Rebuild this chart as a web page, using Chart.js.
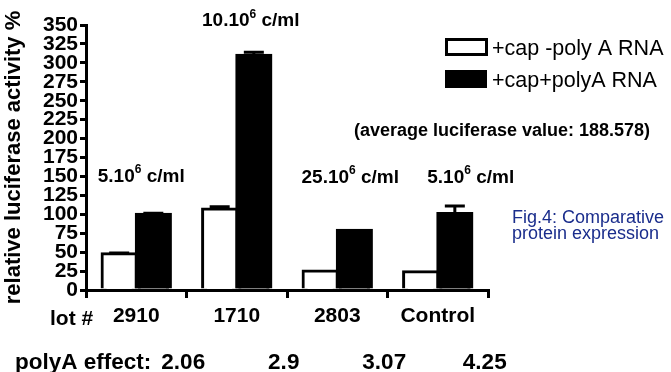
<!DOCTYPE html>
<html lang="en">
<head>
    <meta charset="UTF-8">
    <title>Luciferase activity</title>
    <script src="https://cdn.jsdelivr.net/npm/chart.js"></script>
    <style>
        body {
            margin: 0;
            background: #fff;
        }

        #box {
            width: 671px;
            height: 372px;
        }
    </style>
</head>
<body>
    <div id="box">
        <canvas id="chart" width="671" height="372"></canvas>
    </div>

    <script>
        // data
        const lots = ['2910', '1710', '2803', 'Control'];
        const seriesNames = ['+cap -poly A RNA', '+cap+polyA RNA'];
        const noPolyA = [48, 107, 25, 24];
        const withPolyA = [100, 310, 79, 101];
        const noPolyAErr = [1, 3, 0, 0];
        const withPolyAErr = [1.5, 4, 0, 10];
        const yTicksStep = 25;
        const yMax = 350;
        const copies = ['5', '10', '25', '5'];   // x10^6 copies / ml
        const polyAEffect = ['2.06', '2.9', '3.07', '4.25'];
        const averageValue = '188.578';

        const fam = '"Liberation Sans", Arial, sans-serif';

        // places for the text notes (pixel offsets from the category centre, y in axis units)
        const notePos = [[5, 150], [14, 355], [13, 148], [33, 148]];

        function drawCopies(ctx, txt, cx, cy) {
            const big = 'bold 19px ' + fam;
            const small = 'bold 12px ' + fam;
            ctx.font = big;
            const a = txt + '.10';
            const c = ' c/ml';
            const wa = ctx.measureText(a).width;
            const wc = ctx.measureText(c).width;
            ctx.font = small;
            const ws = ctx.measureText('6').width;
            let x = cx - (wa + ws + wc) / 2;
            ctx.textAlign = 'left';
            ctx.textBaseline = 'middle';
            ctx.font = big;
            ctx.fillText(a, x, cy);
            x += wa;
            ctx.font = small;
            ctx.fillText('6', x, cy - 7);
            x += ws;
            ctx.font = big;
            ctx.fillText(c, x, cy);
        }

        const extras = {
            id: 'extras',
            afterDatasetsDraw(chart) {
                const ctx = chart.ctx;
                const xs = chart.scales.x;
                const ys = chart.scales.y;
                ctx.save();
                ctx.fillStyle = '#000';
                ctx.strokeStyle = '#000';

                // error bars
                const errs = [noPolyAErr, withPolyAErr];
                chart.data.datasets.forEach((ds, i) => {
                    const meta = chart.getDatasetMeta(i);
                    meta.data.forEach((bar, j) => {
                        const e = errs[i][j];
                        if (!e) return;
                        const top = ys.getPixelForValue(ds.data[j] + e);
                        ctx.lineWidth = 3;
                        ctx.beginPath();
                        ctx.moveTo(bar.x, bar.y);
                        ctx.lineTo(bar.x, top);
                        ctx.moveTo(bar.x - 10, top);
                        ctx.lineTo(bar.x + 10, top);
                        ctx.stroke();
                    });
                });

                // copies per ml notes
                copies.forEach((c, i) => {
                    const cx = xs.getPixelForValue(i) + notePos[i][0];
                    const cy = ys.getPixelForValue(notePos[i][1]);
                    drawCopies(ctx, c, cx, cy);
                });

                // lot # label
                ctx.font = 'bold 21px ' + fam;
                ctx.textAlign = 'left';
                ctx.textBaseline = 'alphabetic';
                ctx.fillText('lot #', 50, 325);

                // polyA effect row
                ctx.font = 'bold 22.5px ' + fam;
                ctx.fillText('polyA effect:', 15, 369);
                ctx.textAlign = 'center';
                polyAEffect.forEach((v, i) => {
                    ctx.fillText(v, xs.getPixelForValue(i) + 47, 369);
                });

                // legend
                ctx.lineWidth = 3;
                ctx.fillStyle = '#fff';
                ctx.fillRect(446.5, 39.5, 40, 15);
                ctx.strokeRect(446.5, 39.5, 40, 15);
                ctx.fillStyle = '#000';
                ctx.fillRect(445, 70, 42, 18);
                ctx.font = '21.5px ' + fam;
                ctx.textAlign = 'left';
                ctx.fillText(chart.data.datasets[0].label, 492, 55);
                ctx.fillText(chart.data.datasets[1].label, 492, 87);

                // average note
                ctx.font = 'bold 18px ' + fam;
                ctx.textAlign = 'center';
                ctx.fillText('(average luciferase value: ' + averageValue + ')', 502, 136);

                // figure caption
                ctx.fillStyle = '#1a2d8c';
                ctx.font = '18px ' + fam;
                ctx.textAlign = 'left';
                ctx.fillText('Fig.4: Comparative', 512, 223);
                ctx.fillText('protein expression', 512, 239);
                ctx.restore();
            }
        };

        new Chart(document.getElementById('chart'), {
            type: 'bar',
            data: {
                labels: lots,
                datasets: [{
                    label: seriesNames[0],
                    data: noPolyA,
                    backgroundColor: '#fff',
                    borderColor: '#000',
                    borderWidth: 3,
                    borderSkipped: 'bottom',
                    inflateAmount: 1.5
                }, {
                    label: seriesNames[1],
                    data: withPolyA,
                    backgroundColor: '#000',
                    borderColor: '#000',
                    borderWidth: 3,
                    borderSkipped: 'bottom',
                    inflateAmount: 1.5
                }]
            },
            options: {
                responsive: false,
                animation: false,
                categoryPercentage: 0.68,
                barPercentage: 1.0,
                layout: {
                    padding: { top: 25, right: 183, left: 0, bottom: 0 }
                },
                plugins: {
                    legend: { display: false },
                    tooltip: { enabled: false }
                },
                scales: {
                    x: {
                        afterFit(s) { s.height = 82; },
                        grid: { drawOnChartArea: false, drawTicks: true, tickLength: 8, color: '#000', lineWidth: 3 },
                        border: { display: true, color: '#000', width: 3, z: 1 },
                        ticks: {
                            color: '#000',
                            padding: 6,
                            font: { family: fam, size: 21, weight: 'bold' }
                        }
                    },
                    y: {
                        min: 0,
                        max: yMax,
                        afterFit(s) { s.width = 86; },
                        grid: { drawOnChartArea: false, drawTicks: true, tickLength: 6, color: '#000', lineWidth: 3 },
                        border: { display: true, color: '#000', width: 3 },
                        ticks: {
                            stepSize: yTicksStep,
                            autoSkip: false,
                            color: '#000',
                            padding: 2,
                            font: { family: fam, size: 21, weight: 'bold' }
                        },
                        title: {
                            display: true,
                            text: 'relative luciferase activity %',
                            color: '#000',
                            padding: { top: 1, bottom: 0 },
                            font: { family: fam, size: 22, weight: 'bold', lineHeight: 1.2 }
                        }
                    }
                }
            },
            plugins: [extras]
        });
    </script>
</body>
</html>
